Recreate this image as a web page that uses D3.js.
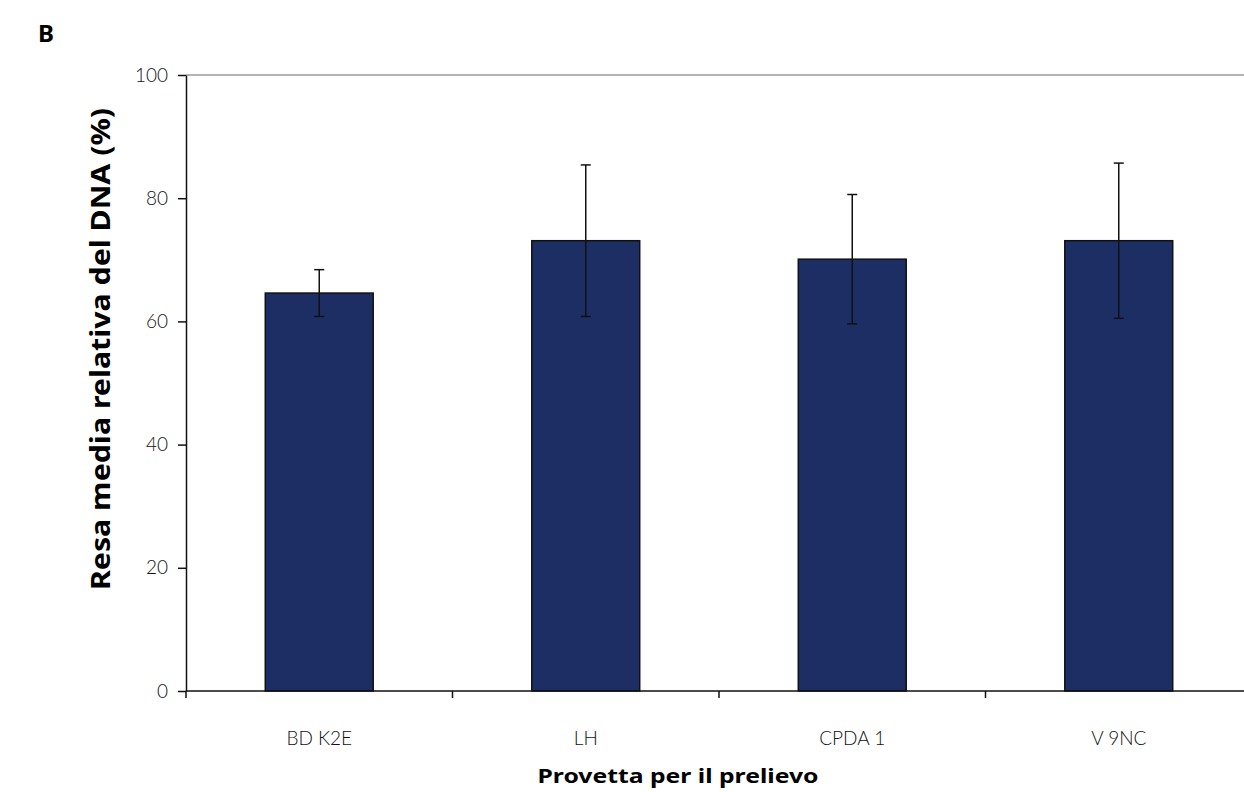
<!DOCTYPE html>
<html>
<head>
<meta charset="utf-8">
<script src="https://cdn.jsdelivr.net/npm/d3@7"></script>
<style>
  body { margin: 0; background: #fff; }
  svg { display: block; }
  .tick text { font-family: Lato, "Liberation Sans", sans-serif; font-weight: 300; font-size: 19px; fill: #111; }
  .title { font-family: "Noto Sans", "Liberation Sans", sans-serif; font-weight: 700; fill: #000; }
</style>
</head>
<body>
<svg></svg>
<script>
// data
let categories = ['BD K2E', 'LH', 'CPDA 1', 'V 9NC'];
let means = [64.6, 73.1, 70.1, 73.1];
let errors = [3.8, 12.3, 10.5, 12.6];
let yTicks = [0, 20, 40, 60, 80, 100];

// configuration of svg/plot area
let config = {
  'svg': {},
  'margin': {},
  'plot': {}
};

config.svg.width = 1244;
config.svg.height = 792;

config.margin.top = 75;
config.margin.left = 186;
config.margin.bottom = 101;
config.plot.right = 1252; // last band runs past the window edge

config.plot.x = config.margin.left;
config.plot.y = config.margin.top;
config.plot.width = config.plot.right - config.margin.left;
config.plot.height = config.svg.height - config.margin.top - config.margin.bottom;

let svg = d3.select('body').select('svg');
svg.attr('width', config.svg.width);
svg.attr('height', config.svg.height);

let plot = svg.append('g');
plot.attr('id', 'plot');
plot.attr('transform', 'translate(' + config.plot.x + ',' + config.plot.y + ')');

// scales
let x = d3.scaleBand()
  .domain(categories)
  .range([0, config.plot.width])
  .paddingInner(0.595)
  .paddingOuter(0.2975);

let y = d3.scaleLinear()
  .domain([0, 100])
  .range([config.plot.height, 0]);

let step = x.step();

// top line at 100
plot.append('line')
  .attr('x1', 0)
  .attr('x2', config.svg.width)
  .attr('y1', y(100))
  .attr('y2', y(100))
  .attr('stroke', '#9a9a9a')
  .attr('stroke-width', 1.5);

// bars
plot.selectAll('rect.bar')
  .data(means)
  .enter()
  .append('rect')
  .attr('class', 'bar')
  .attr('x', (d, i) => x(categories[i]))
  .attr('y', d => y(d))
  .attr('width', x.bandwidth())
  .attr('height', d => y(0) - y(d))
  .attr('fill', '#1c2e64')
  .attr('stroke', '#111')
  .attr('stroke-width', 1.5);

// error bars
let err = plot.selectAll('g.err')
  .data(means)
  .enter()
  .append('g')
  .attr('class', 'err')
  .attr('transform', (d, i) => 'translate(' + (x(categories[i]) + x.bandwidth() / 2) + ',0)');

err.append('line')
  .attr('x1', 0).attr('x2', 0)
  .attr('y1', (d, i) => y(d + errors[i]))
  .attr('y2', (d, i) => y(d - errors[i]))
  .attr('stroke', '#111')
  .attr('stroke-width', 1.5);

err.selectAll('line.cap')
  .data((d, i) => [d + errors[i], d - errors[i]])
  .enter()
  .append('line')
  .attr('class', 'cap')
  .attr('x1', -5).attr('x2', 5)
  .attr('y1', d => y(d))
  .attr('y2', d => y(d))
  .attr('stroke', '#111')
  .attr('stroke-width', 1.5);

// y axis
let yAxis = plot.append('g')
  .call(d3.axisLeft(y).tickValues(yTicks).tickSize(8).tickPadding(10).tickSizeOuter(0));
yAxis.select('.domain').attr('stroke', '#111').attr('stroke-width', 1.5);
yAxis.selectAll('.tick line').attr('stroke', '#111').attr('stroke-width', 1.5);

// x axis: labels in band centres, ticks on band edges
let xAxis = plot.append('g')
  .attr('transform', 'translate(0,' + config.plot.height + ')')
  .call(d3.axisBottom(x).tickSize(0).tickPadding(41));
xAxis.select('.domain').remove();

xAxis.append('line')
  .attr('x1', 0)
  .attr('x2', config.svg.width)
  .attr('stroke', '#111')
  .attr('stroke-width', 1.5);

xAxis.selectAll('line.edge')
  .data(d3.range(categories.length + 1))
  .enter()
  .append('line')
  .attr('class', 'edge')
  .attr('x1', d => d * step)
  .attr('x2', d => d * step)
  .attr('y1', 0)
  .attr('y2', 7)
  .attr('stroke', '#111')
  .attr('stroke-width', 1.5);

// titles
svg.append('text')
  .attr('class', 'title')
  .attr('x', 678)
  .attr('y', 783)
  .attr('text-anchor', 'middle')
  .attr('textLength', 281)
  .attr('lengthAdjust', 'spacingAndGlyphs')
  .style('font-size', '20px')
  .text('Provetta per il prelievo');

svg.append('text')
  .attr('class', 'title')
  .attr('transform', 'translate(110,349) rotate(-90)')
  .attr('text-anchor', 'middle')
  .attr('textLength', 482)
  .attr('lengthAdjust', 'spacingAndGlyphs')
  .style('font-size', '26px')
  .text('Resa media relativa del DNA (%)');

svg.append('text')
  .attr('class', 'title')
  .attr('x', 38)
  .attr('y', 42)
  .style('font-size', '24px')
  .text('B');
</script>
</body>
</html>
